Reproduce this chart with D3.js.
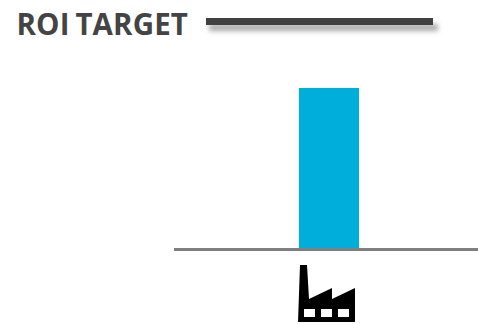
<!DOCTYPE html>
<html><head><meta charset="utf-8">
<script src="https://cdnjs.cloudflare.com/ajax/libs/d3/7.8.5/d3.min.js"></script>
<style>html,body{margin:0;padding:0;background:#fff;overflow:hidden}svg{display:block}</style>
</head><body><div id="chart"></div>
<script>
const categories = ["Factory"];
const values = [100];
const titleText = "ROI TARGET";

const W = 478, H = 324;
const svg = d3.select("#chart").append("svg").attr("width", W).attr("height", H);
const defs = svg.append("defs");
const f = defs.append("filter").attr("id","sh").attr("x","-5%").attr("y","-200%").attr("width","110%").attr("height","600%");
f.append("feGaussianBlur").attr("stdDeviation",2.6);

const x = d3.scaleBand().domain(categories).range([174, 484]).paddingInner(0).paddingOuter(2.0833);
const y = d3.scaleLinear().domain([0,100]).range([248,88]);

svg.append("text").attr("x",16.5).attr("y",34.5).text(titleText)
  .attr("font-family","'Open Sans'").attr("font-weight",700).attr("font-size",29.5)
  .attr("letter-spacing",0.13).attr("word-spacing",-2).attr("fill","#444444");

svg.append("rect").attr("x",209).attr("y",24).attr("width",229).attr("height",7)
  .attr("fill","#aaa").attr("filter","url(#sh)");
svg.append("rect").attr("x",206).attr("y",18).attr("width",227).attr("height",7).attr("fill","#404040");

svg.selectAll("rect.bar").data(values).join("rect").attr("class","bar")
  .attr("x",(d,i)=>x(categories[i])).attr("width",x.bandwidth())
  .attr("y",d=>y(d)).attr("height",d=>y(0)-y(d)).attr("fill","#00AEDB");

svg.append("rect").attr("x",174).attr("y",248).attr("width",304).attr("height",3).attr("fill","#7f7f7f");

const icon = svg.append("g").attr("transform","translate(298,265)");
icon.append("path").attr("fill","#000").attr("fill-rule","evenodd")
  .attr("d","M2 0H9L11 34L34 23V34L57 23V57H0Z M6 44V52H17V44Z M23 44V52H34V44Z M40 44V52H51V44Z");
</script></body></html>
